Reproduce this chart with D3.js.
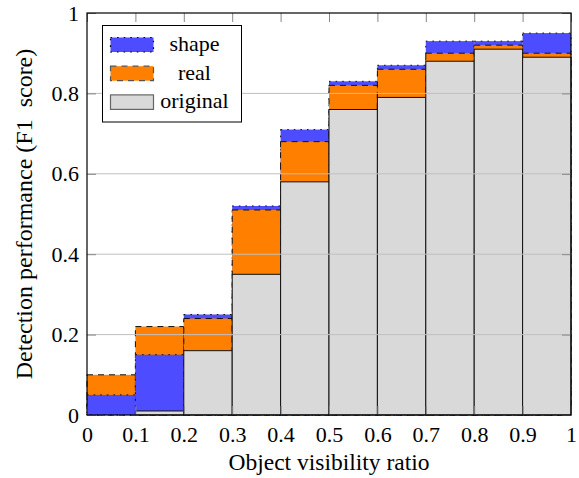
<!DOCTYPE html>
<html>
<head>
<meta charset="utf-8">
<script src="https://cdn.jsdelivr.net/npm/d3@7"></script>
<style>
  body { margin: 0; background: #fff; }
  svg text { font-family: "Liberation Serif" !important; fill: #000; }
</style>
</head>
<body>
<div id="chart"></div>
<script>
// bin start of each visibility interval (width 0.1)
var bins = [0, 0.1, 0.2, 0.3, 0.4, 0.5, 0.6, 0.7, 0.8, 0.9];
var shapeF1 = [0.05, 0.15, 0.25, 0.52, 0.71, 0.83, 0.87, 0.93, 0.93, 0.95];
var realF1 = [0.10, 0.22, 0.24, 0.51, 0.68, 0.82, 0.86, 0.90, 0.92, 0.90];
var originalF1 = [0.00, 0.01, 0.16, 0.35, 0.58, 0.76, 0.79, 0.88, 0.91, 0.89];
var xTicks = [0, 0.1, 0.2, 0.3, 0.4, 0.5, 0.6, 0.7, 0.8, 0.9, 1];
var yTicks = [0, 0.2, 0.4, 0.6, 0.8, 1];
var binWidth = 0.1;

var series = [
    { name: "shape", values: shapeF1, fill: "#4d4dff", dash: "1.6,5", legendStroke: "#000" },
    { name: "real", values: realF1, fill: "#ff8000", dash: "6,5", legendStroke: "#555" },
    { name: "original", values: originalF1, fill: "#d9d9d9", dash: null, legendStroke: "#666" }
];

var margin = { top: 13, right: 8, bottom: 63, left: 87 },
    width = 579 - margin.left - margin.right,
    height = 478 - margin.top - margin.bottom;

var svg = d3.select("#chart")
    .append("svg")
    .attr("width", 579)
    .attr("height", 478)
    .append("g")
    .attr("transform", "translate(" + margin.left + "," + margin.top + ")");

var x = d3.scaleLinear().domain([0, 1]).range([0, width]);
var y = d3.scaleLinear().domain([0, 1]).range([height, 0]);

// per bin, tallest bar goes to the back
var layers = [[], [], []];
bins.forEach(function (b, i) {
    var entries = series.map(function (s) { return { s: s, v: s.values[i], b: b }; });
    entries.sort(function (a, c) { return c.v - a.v; });
    entries.forEach(function (e, k) { layers[k].push(e); });
});

layers.forEach(function (layer) {
    svg.append("g")
        .selectAll("rect")
        .data(layer)
        .enter()
        .append("rect")
        .attr("x", function (d) { return x(d.b); })
        .attr("width", function (d) { return x(d.b + binWidth) - x(d.b); })
        .attr("y", function (d) { return y(d.v); })
        .attr("height", function (d) { return y(0) - y(d.v); })
        .attr("fill", function (d) { return d.s.fill; })
        .attr("stroke", "#111")
        .attr("stroke-width", 1)
        .attr("stroke-dasharray", function (d) { return d.s.dash; });
});

// horizontal grid over the bars
svg.append("g")
    .selectAll("line")
    .data(yTicks.filter(function (t) { return t > 0 && t < 1; }))
    .enter()
    .append("line")
    .attr("x1", 0)
    .attr("x2", width)
    .attr("y1", function (d) { return y(d); })
    .attr("y2", function (d) { return y(d); })
    .attr("stroke", "#bfbfbf")
    .attr("stroke-width", 1);

var fmt = function (d) { return d === 0 || d === 1 ? d : d3.format(".1f")(d); };

// axes, ticks pointing inward
svg.append("g")
    .attr("transform", "translate(0," + height + ")")
    .call(d3.axisBottom(x).tickValues(xTicks).tickSize(-9).tickPadding(11).tickFormat(fmt))
    .call(function (g) { g.select(".domain").remove(); })
    .call(function (g) { g.selectAll(".tick line").attr("stroke", "#888"); })
    .call(function (g) { g.selectAll(".tick text").style("font-size", "22px"); });

svg.append("g")
    .call(d3.axisTop(x).tickValues(xTicks).tickSize(-9).tickFormat(""))
    .call(function (g) { g.select(".domain").remove(); })
    .call(function (g) { g.selectAll(".tick line").attr("stroke", "#888"); });

svg.append("g")
    .call(d3.axisLeft(y).tickValues(yTicks).tickSize(-9).tickPadding(8).tickFormat(fmt))
    .call(function (g) { g.select(".domain").remove(); })
    .call(function (g) { g.selectAll(".tick line").attr("stroke", "#888"); })
    .call(function (g) { g.selectAll(".tick text").style("font-size", "22px"); });

svg.append("g")
    .attr("transform", "translate(" + width + ",0)")
    .call(d3.axisRight(y).tickValues(yTicks).tickSize(-9).tickFormat(""))
    .call(function (g) { g.select(".domain").remove(); })
    .call(function (g) { g.selectAll(".tick line").attr("stroke", "#888"); });

svg.append("rect")
    .attr("width", width)
    .attr("height", height)
    .attr("fill", "none")
    .attr("stroke", "#000")
    .attr("stroke-width", 1.2);

// axis titles
svg.append("text")
    .attr("x", width / 2)
    .attr("y", height + 55)
    .attr("text-anchor", "middle")
    .style("font-size", "23.5px")
    .text("Object visibility ratio");

svg.append("text")
    .attr("transform", "translate(" + (-55) + "," + (height / 2) + ") rotate(-90)")
    .attr("text-anchor", "middle")
    .style("font-size", "24px")
    .text("Detection performance (F1\u00a0 score)");

// legend
var legend = svg.append("g").attr("transform", "translate(15.5,12.5)");
legend.append("rect")
    .attr("width", 139)
    .attr("height", 96.5)
    .attr("fill", "#fff")
    .attr("stroke", "#000")
    .attr("stroke-width", 1);

var rows = legend.selectAll("g.row")
    .data(series)
    .enter()
    .append("g")
    .attr("class", "row")
    .attr("transform", function (d, i) { return "translate(8," + (12 + i * 28.7) + ")"; });

rows.append("rect")
    .attr("width", 43)
    .attr("height", 14.5)
    .attr("fill", function (d) { return d.fill; })
    .attr("stroke", function (d) { return d.legendStroke; })
    .attr("stroke-width", 1.2)
    .attr("stroke-dasharray", function (d) { return d.dash; });

rows.append("text")
    .attr("x", 84)
    .attr("y", 13.5)
    .attr("text-anchor", "middle")
    .style("font-size", "22px")
    .text(function (d) { return d.name; });
</script>
</body>
</html>
